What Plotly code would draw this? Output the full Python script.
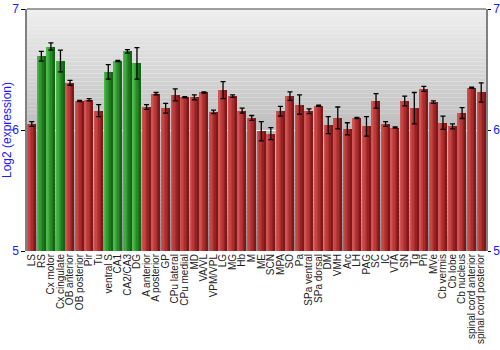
import plotly.graph_objects as go

regions = ["LS", "RS", "Cx motor", "Cx cingulate", "OB anterior", "OB posterior", "Pir", "Tu",
           "ventral S", "CA1", "CA2/CA3", "DG", "A anterior", "A posterior", "GP", "CPu lateral",
           "CPu medial", "MD", "VA/VL", "VPM/VPL", "LG", "MG", "Hb", "M", "ME", "SCN", "MPA", "SO",
           "Pa", "SPa ventral", "SPa dorsal", "DM", "VMH", "Arc", "LH", "PAG", "SC", "IC", "VTA",
           "SN", "Tg", "Pn", "MVe", "Cb vermis", "Cb lobe", "Cb nucleus", "spinal cord anterior",
           "spinal cord posterior"]

expression = [6.05, 6.61, 6.69, 6.57, 6.39, 6.24, 6.25, 6.16,
              6.48, 6.57, 6.65, 6.55, 6.19, 6.30, 6.18, 6.29,
              6.27, 6.27, 6.31, 6.15, 6.33, 6.28, 6.16, 6.10, 5.99, 5.97, 6.155, 6.28,
              6.21, 6.155, 6.20, 6.04, 6.10, 6.01, 6.10, 6.03, 6.24, 6.05, 6.02,
              6.24, 6.18, 6.34, 6.23, 6.06, 6.03, 6.14, 6.35, 6.31]

errors = [0.02, 0.04, 0.03, 0.09, 0.02, 0.005, 0.01, 0.05,
          0.06, 0.005, 0.015, 0.13, 0.02, 0.01, 0.04, 0.05,
          0.005, 0.02, 0.005, 0.015, 0.07, 0.01, 0.02, 0.02, 0.08, 0.05, 0.04, 0.035,
          0.08, 0.02, 0.005, 0.07, 0.09, 0.05, 0.005, 0.08, 0.06, 0.02, 0.005,
          0.04, 0.13, 0.02, 0.01, 0.055, 0.02, 0.045, 0.005, 0.08]

highlighted = {"RS", "Cx motor", "Cx cingulate", "ventral S", "CA1", "CA2/CA3", "DG"}

y_ticks = [5, 6, 7]

# gradient strip colours (left -> right) for each bar type
red_strips = ["#cf5454", "#c54444", "#b93838", "#a92d2d", "#962323", "#7f1818"]
green_strips = ["#4cb84c", "#3dab3d", "#319c31", "#278a27", "#1f781f", "#176417"]

fig = go.Figure()

n_strips = len(red_strips)
total_w = 0.88
strip_w = total_w / n_strips
for k in range(n_strips):
    cols = [green_strips[k] if r in highlighted else red_strips[k] for r in regions]
    fig.add_trace(go.Bar(
        x=regions, y=expression, width=strip_w * 1.02,
        offset=-total_w / 2 + k * strip_w,
        marker=dict(color=cols, line=dict(width=0)),
        showlegend=False, hoverinfo="skip"))

fig.add_trace(go.Scatter(
    x=regions, y=expression, mode="markers",
    marker=dict(size=1, color="rgba(0,0,0,0)"),
    error_y=dict(type="data", array=errors, color="black", thickness=1.3, width=2.5),
    showlegend=False))

fig.add_trace(go.Scatter(x=[regions[0]], y=[5], yaxis="y2", mode="markers",
                         marker=dict(color="rgba(0,0,0,0)"), showlegend=False, hoverinfo="skip"))

# background gradient bands
shapes = []
n_bands = 60
top = (240, 240, 240)
bottom = (140, 140, 140)
for i in range(n_bands):
    t0 = 7 - 2 * i / n_bands
    t1 = 7 - 2 * (i + 1) / n_bands
    f = (i + 0.5) / n_bands
    c = tuple(int(top[j] + (bottom[j] - top[j]) * f) for j in range(3))
    shapes.append(dict(type="rect", xref="paper", yref="y", x0=0, x1=1, y0=t1, y1=t0,
                       fillcolor="rgb(%d,%d,%d)" % c, line=dict(width=0), layer="below"))
shapes.append(dict(type="line", xref="paper", yref="paper", x0=0, x1=1, y0=1, y1=1,
                   line=dict(color="#808080", width=1.5)))

tick_font = dict(size=12, color="#1a1aff")

fig.update_layout(
    width=500, height=350,
    margin=dict(l=27, r=14, t=9, b=99),
    paper_bgcolor="white", plot_bgcolor="rgba(0,0,0,0)",
    barmode="overlay", bargap=0,
    shapes=shapes,
    font=dict(family="Liberation Sans, Arial, sans-serif"),
    xaxis=dict(type="category", range=[-0.5, len(regions) - 0.5], tickmode="array",
               tickvals=regions, ticktext=regions,
               tickangle=-90, tickfont=dict(size=10, color="#222222"), showgrid=False,
               showline=False, ticks="", zeroline=False, automargin=False),
    yaxis=dict(range=[5, 7], tickvals=y_ticks, ticktext=[str(v) for v in y_ticks],
               tickfont=tick_font, ticks="outside", ticklen=4,
               tickcolor="black", showline=True, linecolor="#808080", linewidth=1.5,
               showgrid=True, gridcolor="rgba(255,255,255,0.9)", gridwidth=1,
               zeroline=False, automargin=False,
               title=dict(text="Log2 (expression)", font=dict(size=12, color="#1a1aff"),
                          standoff=6)),
    yaxis2=dict(range=[5, 7], tickvals=y_ticks, ticktext=[str(v) for v in y_ticks],
                overlaying="y", side="right", showgrid=False,
                tickfont=tick_font, ticks="outside", ticklen=3, ticklabelstandoff=0,
                tickcolor="black", showline=True, linecolor="#808080", linewidth=1.5,
                zeroline=False, automargin=False),
)

fig.write_html("out.html")
